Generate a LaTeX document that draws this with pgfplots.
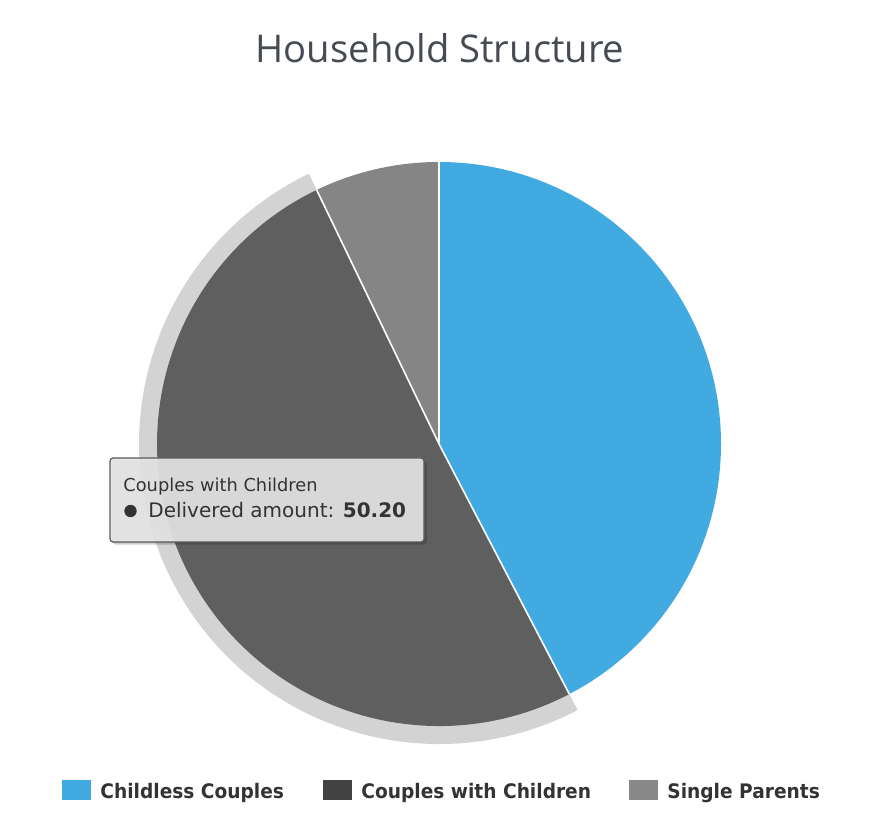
\documentclass[border=0pt]{standalone}
\usepackage{pgfplots}
\pgfplotsset{compat=1.18}
\usepackage{pgfplotstable}
\usepackage{fontspec}
\setmainfont{DejaVu Sans}
\newfontfamily\titlefont{Open Sans}
\newfontfamily\legendfont[FakeStretch=0.93]{DejaVu Sans}

\definecolor{hcblue}{RGB}{65,170,224}
\definecolor{hcdark}{RGB}{95,95,95}
\definecolor{hcdarkleg}{RGB}{67,67,67}
\definecolor{hcgray}{RGB}{133,133,133}
\definecolor{hcgrayleg}{RGB}{136,136,136}
\definecolor{hchalo}{RGB}{211,211,211}
\definecolor{tipfill}{RGB}{228,228,228}
\definecolor{tipborder}{RGB}{90,90,90}
\definecolor{txt}{RGB}{51,51,51}
\definecolor{titlecol}{RGB}{70,74,82}

% delivered amount of each household type
\pgfplotstableread{
value
42.1
50.2
7.1
}\piedata

% total, then start / end angles of the slices, clockwise from 12 o'clock
\def\tot{0}
\pgfplotsforeachungrouped \i in {0,1,2}{%
  \pgfplotstablegetelem{\i}{value}\of\piedata
  \pgfmathsetmacro\tot{\tot+\pgfplotsretval}%
}
\def\cum{0}
\pgfplotsforeachungrouped \i in {0,1,2}{%
  \pgfplotstablegetelem{\i}{value}\of\piedata
  \pgfmathsetmacro\s{90-(\cum/\tot)*360}%
  \pgfmathsetmacro\cum{\cum+\pgfplotsretval}%
  \pgfmathsetmacro\e{90-(\cum/\tot)*360}%
  \expandafter\xdef\csname sa\i\endcsname{\s}%
  \expandafter\xdef\csname ea\i\endcsname{\e}%
}

\newcommand\slice[4]{% colour, start, end, radius
  \fill[#1] (axis cs:439,381) -- ++(#2:#4) arc[start angle=#2,end angle=#3,radius=#4] -- cycle;}

\begin{document}
\begin{tikzpicture}
\begin{axis}[
    x=0.5pt, y=0.5pt,
    xmin=0, xmax=872, ymin=0, ymax=825,
    scale only axis, hide axis, clip=false,
]
\path[draw=none] (axis cs:0,0) rectangle (axis cs:872,825);

% title
\node[font=\titlefont\fontsize{19.1pt}{23pt}\selectfont, text=titlecol, anchor=base]
  at (axis cs:440,762) {Household Structure};

% halo of the hovered slice
\slice{hchalo}{\csname sa1\endcsname}{\csname ea1\endcsname}{150pt}

% slices
\slice{hcblue}{\csname sa0\endcsname}{\csname ea0\endcsname}{141pt}
\slice{hcdark}{\csname sa1\endcsname}{\csname ea1\endcsname}{141pt}
\slice{hcgray}{\csname sa2\endcsname}{\csname ea2\endcsname}{141pt}
% white borders
\draw[white, line width=0.8pt] (axis cs:439,381) -- ++(\csname sa0\endcsname:141pt);
\draw[white, line width=0.8pt] (axis cs:439,381) -- ++(\csname sa1\endcsname:141pt);
\draw[white, line width=0.8pt] (axis cs:439,381) -- ++(\csname sa2\endcsname:141pt);

% tooltip
\fill[black, opacity=0.12, rounded corners=1.5pt] (axis cs:113,364) rectangle (axis cs:427,280);
\fill[black, opacity=0.08, rounded corners=1.5pt] (axis cs:112,365) rectangle (axis cs:426,281);
\draw[fill=tipfill, fill opacity=0.92, draw=tipborder, line width=0.6pt, rounded corners=1.5pt]
  (axis cs:110,367) rectangle (axis cs:424,283);
\node[anchor=base west, inner sep=0pt, text=txt, font=\fontsize{8.9pt}{10pt}\selectfont]
  at (axis cs:123,333) {Couples with Children};
\fill[txt] (axis cs:130.5,314) circle[radius=3.1pt];
\node[anchor=base west, inner sep=0pt, text=txt, font=\fontsize{10pt}{12pt}\selectfont]
  at (axis cs:148,307) {Delivered amount: \textbf{50.20}};

% legend
\fill[hcblue] (axis cs:62,45) rectangle (axis cs:91,25);
\node[anchor=base west, inner sep=0pt, text=txt, font=\legendfont\bfseries\fontsize{10pt}{12pt}\selectfont]
  at (axis cs:100,27) {Childless Couples};
\fill[hcdarkleg] (axis cs:323,45) rectangle (axis cs:352,25);
\node[anchor=base west, inner sep=0pt, text=txt, font=\legendfont\bfseries\fontsize{10pt}{12pt}\selectfont]
  at (axis cs:361,27) {Couples with Children};
\fill[hcgrayleg] (axis cs:629,45) rectangle (axis cs:658,25);
\node[anchor=base west, inner sep=0pt, text=txt, font=\legendfont\bfseries\fontsize{10pt}{12pt}\selectfont]
  at (axis cs:667,27) {Single Parents};
\end{axis}
\end{tikzpicture}
\end{document}
